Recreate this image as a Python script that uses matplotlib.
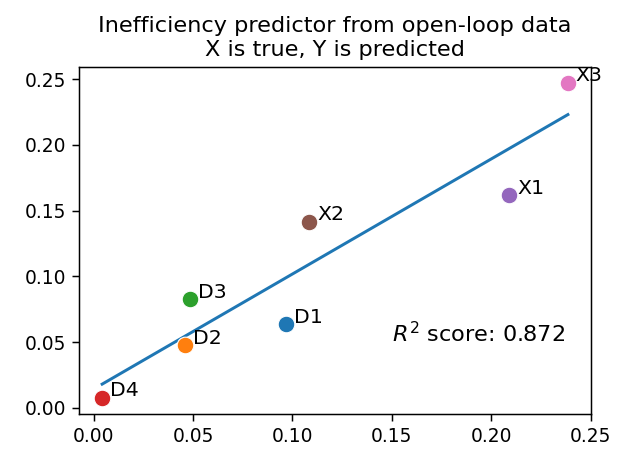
import matplotlib
matplotlib.use("Agg")
import matplotlib.pyplot as plt

names = ["D1", "D2", "D3", "D4", "X1", "X2", "X3"]
true_vals = [0.0969, 0.0460, 0.0487, 0.0043, 0.2090, 0.1085, 0.2385]
pred_vals = [0.0636, 0.0477, 0.0824, 0.0076, 0.1618, 0.1417, 0.2475]

fit_x = [0.0043, 0.2385]
fit_y = [0.0180, 0.2231]
r2 = 0.872

dpi = 134
fig = plt.figure(figsize=(621 / dpi, 451 / dpi), dpi=dpi)
ax = fig.add_subplot(111)
fig.subplots_adjust(left=0.127, right=0.952, top=0.852, bottom=0.083)

ax.plot(fit_x, fit_y, color="tab:blue", lw=1.6)
for i, name in enumerate(names):
    ax.scatter(true_vals[i], pred_vals[i], s=80, color=f"C{i}", edgecolor="white", linewidth=0.6, zorder=3)
    ax.text(true_vals[i] + 0.004, pred_vals[i] + 0.001, name, fontsize=11)

ax.text(0.15, 0.05, f"$R^2$ score: {r2}", fontsize=12)
ax.set_title("Inefficiency predictor from open-loop data\nX is true, Y is predicted")

fig.savefig("out.png", dpi=dpi)
